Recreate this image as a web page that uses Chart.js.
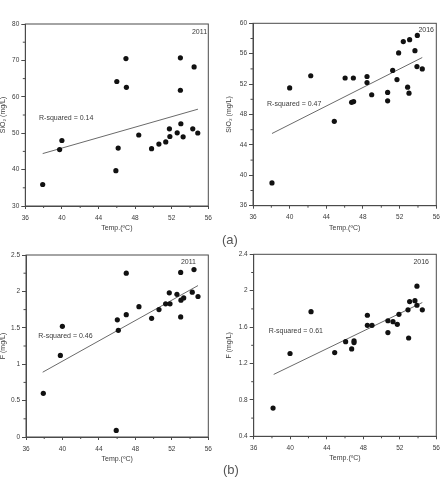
<!DOCTYPE html>
<html><head><meta charset="utf-8">
<script src="https://cdn.jsdelivr.net/npm/chart.js@4.4.0/dist/chart.umd.min.js"></script>
<style>
html,body{margin:0;padding:0;background:#fff}
body{width:443px;height:490px;overflow:hidden;position:relative;font-family:"Liberation Sans",Arial,sans-serif}
canvas{position:absolute}
.lab{position:absolute;font-size:13px;color:#555;line-height:13px}
</style></head><body>
<canvas id="c1" width="222" height="240" style="left:0;top:0;width:222px;height:240px"></canvas>
<canvas id="c2" width="217" height="240" style="left:226px;top:0;width:217px;height:240px"></canvas>
<canvas id="c3" width="222" height="250" style="left:0;top:240px;width:222px;height:250px"></canvas>
<canvas id="c4" width="217" height="250" style="left:226px;top:240px;width:217px;height:250px"></canvas>
<div class="lab" style="left:222px;top:233px">(a)</div>
<div class="lab" style="left:223px;top:463px">(b)</div>
<script>
// ---- data ----
const xTickLabels = ['36','40','44','48','52','56'];

const tempSiO2_2011 = [37.9, 39.75, 40.0, 45.9, 46.0, 46.15, 47.0, 47.05, 48.4, 49.8, 50.6, 51.35, 51.75, 51.8, 52.6, 52.95, 52.95, 53.0, 53.25, 54.3, 54.45, 54.85];
const sio2_2011     = [35.9, 45.5, 48.0, 39.7, 64.2, 45.9, 70.5, 62.6, 49.5, 45.75, 47.0, 47.6, 51.2, 49.1, 50.1, 70.7, 61.8, 52.6, 49.0, 51.2, 68.2, 50.05];
const fitTempSiO2_2011 = [37.9, 54.87];
const fitSiO2_2011     = [44.4, 56.6];
const ySiO2_2011Ticks  = ['30','40','50','60','70','80'];

const tempSiO2_2016 = [38.07, 40.0, 42.3, 44.87, 46.05, 46.95, 46.76, 46.98, 48.44, 48.44, 48.95, 50.69, 50.69, 51.24, 51.71, 51.89, 52.4, 52.87, 53.02, 53.09, 53.67, 53.93, 53.89, 54.47];
const sio2_2016     = [39.0, 51.5, 53.1, 47.1, 52.8, 52.8, 49.6, 49.7, 53.0, 52.2, 50.6, 50.9, 49.8, 53.8, 52.6, 56.1, 57.6, 51.6, 50.8, 57.85, 56.4, 58.4, 54.3, 54.0];
const fitTempSiO2_2016 = [38.07, 54.47];
const fitSiO2_2016     = [45.5, 55.5];
const ySiO2_2016Ticks  = ['36','40','44','48','52','56','60'];

const tempF_2011 = [37.9, 39.77, 39.99, 45.9, 46.02, 46.13, 47.0, 47.0, 48.39, 49.78, 50.59, 51.32, 51.72, 51.8, 52.56, 52.97, 52.97, 53.0, 53.3, 54.24, 54.43, 54.87];
const f_2011     = [0.6, 1.12, 1.52, 0.09, 1.61, 1.465, 2.25, 1.68, 1.79, 1.63, 1.75, 1.83, 1.98, 1.83, 1.96, 2.26, 1.65, 1.88, 1.91, 1.99, 2.30, 1.93];
const fitTempF_2011 = [37.83, 54.87];
const fitF_2011     = [0.89, 2.08];
const yF_2011Ticks  = ['0','0.5','1','1.5','2','2.5'];

const tempF_2016 = [38.12, 39.98, 42.28, 44.87, 46.07, 46.73, 46.99, 46.99, 48.45, 48.45, 48.96, 50.7, 50.7, 51.26, 51.73, 51.91, 52.9, 52.97, 53.08, 53.66, 53.88, 53.88, 54.47];
const f_2016     = [0.71, 1.31, 1.77, 1.32, 1.44, 1.36, 1.45, 1.43, 1.73, 1.62, 1.62, 1.67, 1.54, 1.66, 1.63, 1.74, 1.79, 1.48, 1.88, 1.89, 2.05, 1.84, 1.79];
const fitTempF_2016 = [38.19, 54.47];
const fitF_2016     = [1.08, 1.87];
const yF_2016Ticks  = ['0.4','0.8','1.2','1.6','2','2.4'];

const rSquaredTexts = ['R-squared = 0.14','R-squared = 0.47','R-squared = 0.46','R-squared = 0.61'];
const yearTexts = ['2011','2016','2011','2016'];

// ---- drawing ----
const AX = '#4a4a4a', TX = '#3a3a3a';
const decor = {
  id: 'decor',
  afterDraw(chart, args, o) {
    const {ctx, chartArea: a, scales: {x, y}} = chart;
    ctx.save();
    ctx.strokeStyle = AX; ctx.lineWidth = 1;
    ctx.strokeRect(a.left, a.top, a.right - a.left, a.bottom - a.top);
    ctx.beginPath();
    const isMajor = (v, st, mn) => Math.abs(((v - mn) / st) - Math.round((v - mn) / st)) < 1e-6;
    for (let v = x.min; v <= x.max + 1e-9; v += o.xMinor) {
      if (isMajor(v, o.xStep, x.min)) continue;
      const px = x.getPixelForValue(v);
      ctx.moveTo(px, a.bottom); ctx.lineTo(px, a.bottom + 2);
    }
    for (let v = y.min; v <= y.max + 1e-9; v += o.yMinor) {
      if (isMajor(v, o.yStep, y.min)) continue;
      const py = y.getPixelForValue(v);
      ctx.moveTo(a.left, py); ctx.lineTo(a.left - 2.5, py);
    }
    ctx.stroke();
    ctx.fillStyle = TX;
    ctx.font = '7px "Liberation Sans", Arial, sans-serif';
    ctx.textBaseline = 'middle';
    ctx.textAlign = 'left';
    ctx.fillText(o.rText, x.getPixelForValue(o.rPos[0]), y.getPixelForValue(o.rPos[1]));
    ctx.textAlign = 'right';
    ctx.fillText(o.yearText, x.getPixelForValue(o.yearPos[0]), y.getPixelForValue(o.yearPos[1]));
    ctx.restore();
  }
};

function labelFrom(list) {
  return v => { const s = list.find(l => Math.abs(parseFloat(l) - v) < 1e-6); return s === undefined ? '' : s; };
}

function make(id, p) {
  const yTicks = p.yTicks.map(parseFloat);
  const yMin = yTicks[0], yMax = yTicks[yTicks.length - 1], yStep = yTicks[1] - yTicks[0];
  new Chart(document.getElementById(id), {
    type: 'scatter',
    data: {
      datasets: [
        { type: 'line', data: p.fitX.map((v, i) => ({x: v, y: p.fitY[i]})), borderColor: '#6a6a6a', borderWidth: 1, pointRadius: 0, fill: false, order: 2 },
        { data: p.xs.map((v, i) => ({x: v, y: p.ys[i]})), backgroundColor: '#111', borderWidth: 0, pointRadius: 2.6, pointHoverRadius: 2.6, order: 1 }
      ]
    },
    options: {
      responsive: false, animation: false, devicePixelRatio: 1,
      layout: { padding: p.pad },
      plugins: { legend: {display: false}, tooltip: {enabled: false},
        decor: { xMinor: 2, xStep: 4, yMinor: p.yMinor, yStep: yStep, rText: p.rText, rPos: p.rPos, yearText: p.yearText, yearPos: p.yearPos } },
      scales: {
        x: {
          type: 'linear', min: 36, max: 56,
          ticks: { stepSize: 4, font: {size: 6.5, family: '"Liberation Sans", Arial'}, color: TX, padding: 5, maxRotation: 0, callback: labelFrom(xTickLabels) },
          grid: { drawOnChartArea: false, drawTicks: true, tickLength: 3, color: AX },
          border: { display: true, color: AX },
          title: { display: true, text: 'Temp.(ºC)', font: {size: 7, family: '"Liberation Sans", Arial', lineHeight: 1}, color: TX, padding: 0 },
          afterFit: s => { s.height = p.hX; s.paddingLeft = 0; s.paddingRight = 0; }
        },
        y: {
          type: 'linear', min: yMin, max: yMax,
          ticks: { stepSize: yStep, font: {size: 6.5, family: '"Liberation Sans", Arial'}, color: TX, padding: 2, callback: labelFrom(p.yTicks) },
          grid: { drawOnChartArea: false, drawTicks: true, tickLength: 4, color: AX },
          border: { display: true, color: AX },
          title: { display: true, text: p.yTitle, font: {size: 7, family: '"Liberation Sans", Arial', lineHeight: 1}, color: TX, padding: 0 },
          afterFit: s => { s.width = p.wY; s.paddingTop = 0; s.paddingBottom = 0; }
        }
      }
    },
    plugins: [decor]
  });
}

make('c1', { xs: tempSiO2_2011, ys: sio2_2011, fitX: fitTempSiO2_2011, fitY: fitSiO2_2011, yTicks: ySiO2_2011Ticks, yMinor: 5,
  yTitle: 'SiO₂ (mg/L)', rText: rSquaredTexts[0], rPos: [37.5, 54.1], yearText: yearTexts[0], yearPos: [55.86, 77.8],
  pad: {left: 0, right: 13.7, top: 24, bottom: 8.5}, wY: 25.3, hX: 25.5 });
make('c2', { xs: tempSiO2_2016, ys: sio2_2016, fitX: fitTempSiO2_2016, fitY: fitSiO2_2016, yTicks: ySiO2_2016Ticks, yMinor: 2,
  yTitle: 'SiO₂ (mg/L)', rText: rSquaredTexts[1], rPos: [37.53, 49.38], yearText: yearTexts[1], yearPos: [55.75, 59.12],
  pad: {left: 0, right: 6.7, top: 23.3, bottom: 8.5}, wY: 27, hX: 25.8 });
make('c3', { xs: tempF_2011, ys: f_2011, fitX: fitTempF_2011, fitY: fitF_2011, yTicks: yF_2011Ticks, yMinor: 0.25,
  yTitle: 'F (mg/L)', rText: rSquaredTexts[2], rPos: [37.35, 1.391], yearText: yearTexts[2], yearPos: [54.65, 2.404],
  pad: {left: 0, right: 13.7, top: 15, bottom: 27.5}, wY: 26, hX: 25.5 });
make('c4', { xs: tempF_2016, ys: f_2016, fitX: fitTempF_2016, fitY: fitF_2016, yTicks: yF_2016Ticks, yMinor: 0.2,
  yTitle: 'F (mg/L)', rText: rSquaredTexts[3], rPos: [37.64, 1.557], yearText: yearTexts[3], yearPos: [55.2, 2.31],
  pad: {left: 0, right: 6.7, top: 14.3, bottom: 28.5}, wY: 27.7, hX: 25.2 });
</script>
</body></html>
